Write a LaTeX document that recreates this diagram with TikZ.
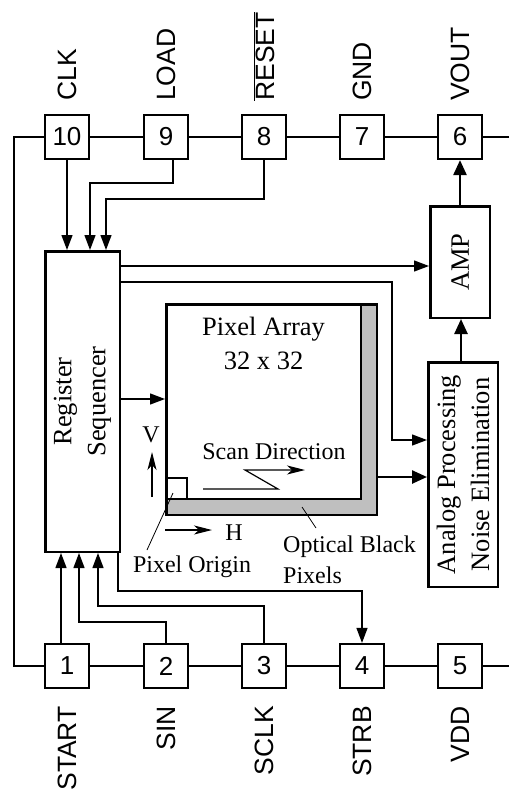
\documentclass[tikz,border=0pt]{standalone}
\usepackage{fontspec}
\setmainfont{Liberation Serif}
\setsansfont{Liberation Sans}
\usetikzlibrary{arrows.meta}
\newcommand{\pinfont}{\sffamily\fontsize{26}{30}\selectfont}
\newcommand{\namefont}{\sffamily\fontsize{26.5}{30}\selectfont}
\newcommand{\bigfont}{\fontsize{26.5}{34}\selectfont}
\newcommand{\smallfont}{\fontsize{24}{31}\selectfont}

\begin{document}
\begin{tikzpicture}[
    x=1pt, y=-1pt,
    pin/.style={rectangle, draw, line width=2.2pt, fill=white, minimum size=44pt, inner sep=0pt, font=\pinfont},
    pinname/.style={rotate=90, inner sep=0pt, font=\namefont},
    block/.style={rectangle, draw, line width=2.5pt, inner sep=0pt},
    bus/.style={line width=2.2pt},
    sig/.style={line width=1.3pt, -{Triangle[length=15pt,width=11pt]}},
    bigsig/.style={line width=2.5pt, -{Triangle[length=15pt,width=13pt]}},
    hint/.style={line width=1.2pt, -{Stealth[length=18pt,width=9pt,inset=5pt]}},
    leader/.style={line width=0.8pt}
  ]
  \useasboundingbox (0,0) rectangle (509,789);

  % Pins
  \foreach \n/\x/\name in {10/67/CLK, 9/166/LOAD, 8/264/{$\overline{\mbox{RESET}}$}, 7/362/GND, 6/460/VOUT} {
    \node[pin] (p\n) at (\x,137) {\n};
    \node[pinname, anchor=west] (l\n) at (\x,101) {\name};
  }
  \foreach \n/\x/\name in {1/67/START, 2/166/SIN, 3/264/SCLK, 4/362/STRB, 5/460/VDD} {
    \node[pin] (p\n) at (\x,666) {\n};
    \node[pinname, anchor=east] (l\n) at (\x,706) {\name};
  }

  % Outer wiring
  \coordinate (lt) at (14,137);
  \coordinate (lb) at (14,666);
  \coordinate (rt) at (509,137);
  \coordinate (rb) at (509,666);
  \draw[bus] (rt) -- (p6) -- (p7) -- (p8) -- (p9) -- (p10) -- (lt) -- (lb) -- (p1) -- (p2) -- (p3) -- (p4) -- (p5) -- (rb);

  % Blocks
  \node[block, minimum width=74.5pt, minimum height=300.5pt] (reg) at (82.5,401.5) {};
  \node[rotate=90, align=center, font=\bigfont] (regtxt) at (reg.center) {Register\\Sequencer};
  \node[block, minimum width=59.5pt, minimum height=111.5pt] (amp) at (460,262) {};
  \node[rotate=90, font=\bigfont] (amptxt) at (amp.center) {AMP};
  \node[block, minimum width=69.5pt, minimum height=224.5pt] (ana) at (463,474.5) {};
  \node[rotate=90, align=center, font=\bigfont] (anatxt) at (ana.center) {Analog Processing\\Noise Elimination};

  % Pixel array with optical black border
  \node[block, fill=black!25, minimum size=210.5pt] (optblack) at (271.5,409.5) {};
  \node[block, fill=white, minimum size=194.5pt] (array) at (263.5,401.5) {};
  \node[block, line width=2pt, minimum size=21pt, anchor=south west] (origin) at (array.south west) {};
  \node[align=center, font=\bigfont, anchor=north, inner sep=0pt] (arraytxt) at (263.5,317) {Pixel Array\\32 x 32};
  \node[font=\smallfont, anchor=base, inner sep=0pt] (scantxt) at (274,459) {Scan Direction};
  \coordinate (s1) at (203,489);
  \coordinate (s2) at (278,489);
  \coordinate (s3) at (245,470);
  \coordinate (s4) at (305,470);
  \draw[hint] (s1) -- (s2) -- (s3) -- (s4);

  % V / H directions
  \node[font=\smallfont, anchor=base, inner sep=0pt] (vtxt) at (151,442) {V};
  \node[font=\smallfont, anchor=base, inner sep=0pt] (htxt) at (234,540) {H};
  \draw[hint] (152,497) -- (152,452);
  \draw[hint] (array.south west |- 0,530) -- (212,530);

  % Leaders
  \node[font=\smallfont, anchor=base, inner sep=0pt] (origintxt) at (192,572) {Pixel Origin};
  \node[font=\smallfont, align=left, anchor=north west, inner sep=0pt] (obtxt) at (283,536) {Optical Black\\Pixels};
  \coordinate (o1) at (173,493);
  \coordinate (o2) at (147,550);
  \coordinate (b1) at (302,507);
  \coordinate (b2) at (316,528);
  \draw[leader] (o1) -- (o2);
  \draw[leader] (b1) -- (b2);

  % Control inputs (top)
  \draw[sig] (p10.south) -- (reg.north -| p10.south);
  \draw[sig] (p9.south -| 173,0) |- (90,183) -- (reg.north -| 90,0);
  \draw[sig] (p8.south) |- (106,199) -- (reg.north -| 106,0);

  % Control inputs (bottom)
  \draw[sig] (p1.north -| 61,0) -- (reg.south -| 61,0);
  \draw[sig] (p2.north) |- (79,622) -- (reg.south -| 79,0);
  \draw[sig] (p3.north) |- (98,606) -- (reg.south -| 98,0);
  \draw[sig] (reg.south -| 118,0) |- (362,591) -- (p4.north);

  % Sequencer outputs
  \draw[sig] (reg.east |- 0,266) -- (amp.west |- 0,266);
  \draw[sig] (reg.east |- 0,282) -| (392,440) -- (ana.west |- 0,440);
  \draw[sig] (reg.east |- 0,399) -- (array.west |- 0,399);

  % Signal path
  \draw[bigsig] (optblack.east |- 0,477) -- (ana.west |- 0,477);
  \draw[bigsig] (ana.north -| 461,0) -- (amp.south -| 461,0);
  \draw[bigsig] (amp.north) -- (p6.south);

\end{tikzpicture}
\end{document}
